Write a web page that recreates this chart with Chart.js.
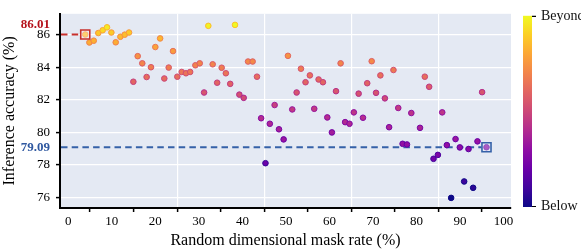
<!DOCTYPE html>
<html>
<head>
<meta charset="utf-8">
<script src="https://cdn.jsdelivr.net/npm/chart.js@4"></script>
<style>
  html, body { margin: 0; padding: 0; background: #ffffff; }
  #wrap { width: 581px; height: 250px; position: relative; }
</style>
</head>
<body>
<div id="wrap"><canvas id="c" width="581" height="250"></canvas></div>
<script>
// ---------------- data ----------------
const maskRate = [3.9, 4.85, 5.85, 6.9, 7.9, 8.9, 9.9, 10.9, 11.97, 12.97,
  13.96, 14.95, 15.95, 17.0, 18.0, 19.0, 20.0, 21.1, 22.06, 23.07,
  24.06, 25.05, 26.06, 27.04, 28.0, 29.2, 30.2, 31.2, 32.17, 33.17,
  34.2, 35.24, 36.2, 37.2, 38.3, 39.3, 40.3, 41.3, 42.35, 43.35,
  44.3, 45.3, 46.3, 47.4, 48.4, 49.47, 50.46, 51.45, 52.46, 53.45,
  54.5, 55.5, 56.5, 57.5, 58.5, 59.5, 60.56, 61.5, 62.56, 63.6,
  64.6, 65.6, 66.7, 67.7, 68.67, 69.7, 70.7, 71.7, 72.73, 73.7,
  74.7, 75.8, 76.8, 77.8, 78.8, 80.8, 81.9, 82.9, 83.9, 84.9,
  85.9, 86.96, 87.95, 88.96, 89.95, 90.94, 91.94, 93.0, 94.0, 95.06,
  96.07];
const accuracy = [86.01, 85.52, 85.63, 86.1, 86.27, 86.45, 86.13, 85.53, 85.87, 86.0,
  86.13, 83.11, 84.68, 84.24, 83.40, 84.0, 85.24, 85.77, 83.31, 83.98,
  84.99, 83.42, 83.71, 83.63, 83.71, 84.12, 84.24, 82.45, 86.54, 84.18,
  83.05, 83.97, 83.63, 82.98, 86.6, 82.32, 82.12, 84.35, 84.35, 83.42,
  80.87, 78.11, 80.53, 81.68, 80.19, 79.57, 84.70, 81.41, 82.45, 83.91,
  83.08, 83.5, 81.45, 83.25, 83.08, 80.92, 80.0, 82.53, 84.24, 80.63,
  80.53, 81.23, 82.38, 80.9, 83.02, 84.37, 82.43, 83.5, 82.09, 80.32,
  83.83, 81.5, 79.3, 79.26, 81.19, 80.28, 83.42, 82.8, 78.38, 78.62,
  81.23, 79.22, 75.98, 79.59, 79.08, 76.99, 78.98, 76.6, 79.45, 82.47,
  79.09];
const xTickValues = [0, 10, 20, 30, 40, 50, 60, 70, 80, 90, 100];
const yTickValues = [76, 78, 80, 82, 84, 86];
const refX = [3.9, 96.07];
const refY = [86.01, 79.09];
const refLabels = ['86.01', '79.09'];
const colorbarLabels = ['Beyond', 'Below'];

// ---------------- styles ----------------
const FONT = 'Liberation Serif';
const refLineColors = ['#c8302c', '#3561a8'];
const refTextColors = ['#b5121b', '#2f58a0'];
const X_MIN = -1.9, X_MAX = 101.7, Y_MIN = 75.36, Y_MAX = 87.28;
// colour normalisation anchors (value -> colormap position)
const C_ANCHOR_V = [75.98, 79.1, 81.0, 84.2, 86.0, 86.6];
const C_ANCHOR_T = [0.0, 0.3, 0.42, 0.7, 0.86, 1.0];

const PLASMA = [
  [13, 8, 135], [65, 4, 157], [106, 0, 168], [143, 13, 164], [177, 42, 144],
  [204, 71, 120], [225, 100, 98], [242, 132, 75], [252, 166, 54], [252, 206, 37], [240, 249, 33]
];
function plasma(t) {
  t = Math.max(0, Math.min(1, t));
  const p = t * (PLASMA.length - 1);
  const i = Math.min(Math.floor(p), PLASMA.length - 2);
  const f = p - i;
  const a = PLASMA[i], b = PLASMA[i + 1];
  return 'rgb(' + [0, 1, 2].map(k => Math.round(a[k] + (b[k] - a[k]) * f)).join(',') + ')';
}
function norm(v) {
  if (v <= C_ANCHOR_V[0]) return 0;
  for (let i = 1; i < C_ANCHOR_V.length; i++) {
    if (v <= C_ANCHOR_V[i]) {
      const f = (v - C_ANCHOR_V[i - 1]) / (C_ANCHOR_V[i] - C_ANCHOR_V[i - 1]);
      return C_ANCHOR_T[i - 1] + f * (C_ANCHOR_T[i] - C_ANCHOR_T[i - 1]);
    }
  }
  return 1;
}

const points = maskRate.map((x, i) => ({ x: x, y: accuracy[i] }));
const fillColors = accuracy.map(v => plasma(norm(v)));
const edgeColors = accuracy.map(v => plasma(norm(v) - 0.13));

const bgPlugin = {
  id: 'bg',
  beforeDraw(chart) {
    const { ctx, chartArea: a } = chart;
    ctx.save();
    ctx.fillStyle = '#e4e9f3';
    ctx.fillRect(a.left, a.top, a.right - a.left, a.bottom - a.top);
    ctx.restore();
  },
  beforeDatasetsDraw(chart) {
    const { ctx, chartArea: a, scales } = chart;
    ctx.save();
    ctx.lineWidth = 1.8;
    ctx.setLineDash([6.5, 4.2]);
    refX.forEach((xv, i) => {
      const y = scales.y.getPixelForValue(refY[i]);
      const xe = scales.x.getPixelForValue(xv) - 5;
      ctx.strokeStyle = refLineColors[i];
      ctx.beginPath();
      ctx.moveTo(a.left + 1, y);
      ctx.lineTo(xe, y);
      ctx.stroke();
    });
    ctx.restore();
  },
  afterDraw(chart) {
    const { ctx, chartArea: a, scales } = chart;
    ctx.save();
    ctx.font = 'bold 13px "' + FONT + '"';
    ctx.textAlign = 'right';
    ctx.textBaseline = 'middle';
    refLabels.forEach((t, i) => {
      const y = scales.y.getPixelForValue(refY[i]) + (i === 0 ? -10 : 0);
      ctx.fillStyle = refTextColors[i];
      ctx.fillText(t, a.left - 10, y);
    });
    const bx = a.right + 12, bw = 9, top = a.top + 2, bot = a.bottom - 1;
    const g = ctx.createLinearGradient(0, bot, 0, top);
    for (let k = 0; k <= 20; k++) g.addColorStop(k / 20, plasma(k / 20));
    ctx.fillStyle = g;
    ctx.fillRect(bx, top, bw, bot - top);
    ctx.strokeStyle = '#000';
    ctx.lineWidth = 1.2;
    ctx.beginPath();
    ctx.moveTo(bx + bw, top + 0.5); ctx.lineTo(bx + bw + 4, top + 0.5);
    ctx.moveTo(bx + bw, bot - 0.5); ctx.lineTo(bx + bw + 4, bot - 0.5);
    ctx.stroke();
    ctx.fillStyle = '#111';
    ctx.font = '14px "' + FONT + '"';
    ctx.textAlign = 'left';
    ctx.textBaseline = 'middle';
    ctx.fillText(colorbarLabels[0], bx + bw + 9, top + 1);
    ctx.fillText(colorbarLabels[1], bx + bw + 9, bot - 1);
    ctx.restore();
  }
};

new Chart(document.getElementById('c'), {
  type: 'scatter',
  data: {
    datasets: [
      {
        label: 'accuracy',
        data: points,
        backgroundColor: fillColors,
        borderColor: edgeColors,
        borderWidth: 1,
        pointRadius: 2.8,
        order: 2
      },
      {
        label: 'reference',
        data: refX.map((x, i) => ({ x: x, y: refY[i] })),
        pointStyle: 'rect',
        pointRadius: 6.4,
        backgroundColor: ['rgba(255,240,235,0.35)', 'rgba(230,236,250,0.35)'],
        borderColor: refLineColors,
        borderWidth: 1.6,
        order: 1
      }
    ]
  },
  options: {
    responsive: false,
    animation: false,
    events: [],
    layout: { padding: { top: 3, right: 70, left: 0, bottom: 0 } },
    plugins: { legend: { display: false }, tooltip: { enabled: false } },
    scales: {
      x: {
        type: 'linear',
        min: X_MIN, max: X_MAX,
        afterBuildTicks: s => { s.ticks = xTickValues.map(v => ({ value: v })); },
        afterFit: s => { s.height = 42; },
        grid: {
          offset: true,
          color: c => (c.tick && [30, 50, 70, 90].includes(c.tick.value)) ? '#ffffff' : 'rgba(0,0,0,0)',
          lineWidth: 1.2,
          tickColor: '#000',
          tickLength: 4,
          tickWidth: 1.5
        },
        border: { color: '#000', width: 2 },
        ticks: {
          font: { family: FONT, size: 13 }, color: '#000', padding: 2,
          maxRotation: 0, autoSkip: false
        },
        title: {
          display: true, text: 'Random dimensional mask rate (%)',
          font: { family: FONT, size: 16 }, color: '#000', padding: { top: 0, bottom: 0 }
        }
      },
      y: {
        type: 'linear',
        min: Y_MIN, max: Y_MAX,
        afterBuildTicks: s => { s.ticks = yTickValues.map(v => ({ value: v })); },
        afterFit: s => { s.width = 60; },
        grid: {
          color: '#ffffff',
          lineWidth: 1.2,
          tickColor: '#000',
          tickLength: 4,
          tickWidth: 1.5
        },
        border: { color: '#000', width: 2 },
        ticks: { font: { family: FONT, size: 13 }, color: '#000', padding: 6 },
        title: {
          display: true, text: 'Inference accuracy (%)',
          font: { family: FONT, size: 16 }, color: '#000', padding: { top: 0, bottom: 0 }
        }
      }
    }
  },
  plugins: [bgPlugin]
});
</script>
</body>
</html>
